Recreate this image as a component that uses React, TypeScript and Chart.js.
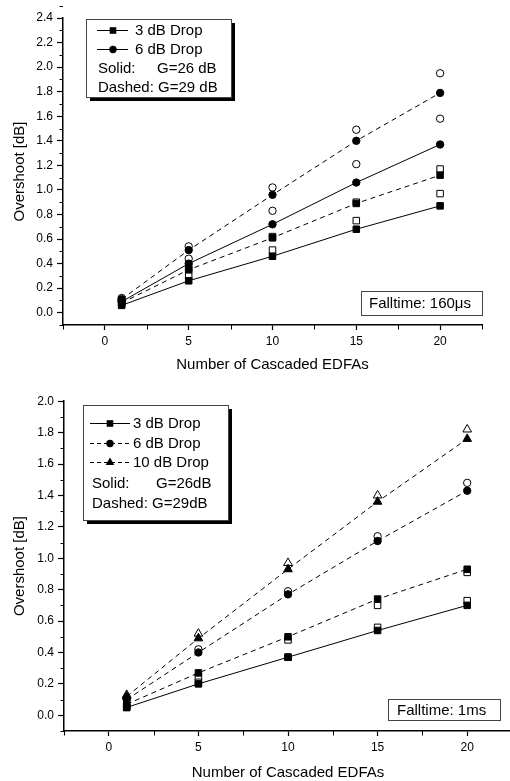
import React, { useEffect, useRef } from 'react';
import { Chart, registerables } from 'chart.js';

Chart.register(...registerables);

const FONT = "'Liberation Sans', Arial, Helvetica, sans-serif";

// ---------- data ----------
const cascadedEdfas = [1, 5, 10, 15, 20];
const xTickLabels = ['0', '5', '10', '15', '20'];
const yTickLabelsTop = ['0.0', '0.2', '0.4', '0.6', '0.8', '1.0', '1.2', '1.4', '1.6', '1.8', '2.0', '2.2', '2.4'];
const yTickLabelsBottom = ['0.0', '0.2', '0.4', '0.6', '0.8', '1.0', '1.2', '1.4', '1.6', '1.8', '2.0'];

// Top panel – Falltime 160 µs
const top3dBSolid = [0.06, 0.26, 0.46, 0.68, 0.87];
const top3dBSolidOpen = [0.07, 0.30, 0.51, 0.75, 0.97];
const top3dBDashed = [0.08, 0.35, 0.61, 0.89, 1.12];
const top3dBDashedOpen = [0.09, 0.36, 0.62, 0.90, 1.17];
const top6dBSolid = [0.09, 0.40, 0.72, 1.06, 1.37];
const top6dBSolidOpen = [0.10, 0.44, 0.83, 1.21, 1.58];
const top6dBDashed = [0.11, 0.51, 0.96, 1.40, 1.79];
const top6dBDashedOpen = [0.12, 0.54, 1.02, 1.49, 1.95];

// Bottom panel – Falltime 1 ms
const bot3dBSolid = [0.05, 0.20, 0.37, 0.54, 0.70];
const bot3dBSolidOpen = [0.05, 0.21, 0.37, 0.56, 0.73];
const bot3dBDashed = [0.07, 0.27, 0.50, 0.74, 0.93];
const bot3dBDashedOpen = [0.06, 0.245, 0.48, 0.70, 0.91];
const bot6dBDashed = [0.10, 0.40, 0.77, 1.11, 1.43];
const bot6dBDashedOpen = [0.11, 0.42, 0.79, 1.14, 1.48];
const bot10dBDashed = [0.12, 0.49, 0.93, 1.36, 1.76];
const bot10dBDashedOpen = [0.13, 0.52, 0.97, 1.40, 1.82];

// ---------- helpers ----------
type Marker = 'rect' | 'circle' | 'triangle';

function radiusFor(m: Marker) {
  return m === 'rect' ? 4.6 : m === 'triangle' ? 5 : 3.7;
}

function series(values: number[], marker: Marker, filled: boolean, line: 'solid' | 'dashed' | null) {
  const r = radiusFor(marker);
  return {
    data: cascadedEdfas.map((x, i) => ({ x, y: values[i] })),
    showLine: line !== null,
    borderColor: '#000',
    borderWidth: 1,
    borderDash: line === 'dashed' ? [5, 4] : [],
    pointStyle: marker,
    pointRadius: r,
    pointHoverRadius: r,
    pointBackgroundColor: filled ? '#000' : '#fff',
    pointBorderColor: '#000',
    pointBorderWidth: 1,
    order: filled ? 0 : 1,
    clip: false as any,
  };
}

function minorOf(majors: number[]) {
  const step = majors[1] - majors[0];
  const out = [majors[0] - step / 2];
  for (let i = 0; i < majors.length; i++) out.push(majors[i] + step / 2);
  return out;
}

function drawMarker(ctx: CanvasRenderingContext2D, m: Marker, x: number, y: number) {
  ctx.fillStyle = '#000';
  ctx.beginPath();
  if (m === 'rect') {
    ctx.rect(x - 3.3, y - 3.3, 6.6, 6.6);
  } else if (m === 'circle') {
    ctx.arc(x, y, 3.7, 0, Math.PI * 2);
  } else {
    const r = 5;
    ctx.moveTo(x, y - r);
    ctx.lineTo(x + r * 0.866, y + r / 2);
    ctx.lineTo(x - r * 0.866, y + r / 2);
    ctx.closePath();
  }
  ctx.fill();
}

type Row =
  | { kind: 'sample'; y: number; x1: number; x2: number; mx: number; marker: Marker; dashed: boolean; tx: number; text: string }
  | { kind: 'text'; y: number; parts: { x: number; text: string }[] };

interface Deco {
  box: { x: number; y: number; w: number; h: number };
  rows: Row[];
  note: { x: number; y: number; w: number; h: number; tx: number; text: string };
  xMinor: number[];
  yMinor: number[];
}

function decoPlugin(d: Deco) {
  return {
    id: 'deco',
    afterDraw(chart: any) {
      const { ctx, chartArea, scales } = chart;
      const xs = scales.x;
      const ys = scales.y;
      ctx.save();
      // minor ticks
      ctx.strokeStyle = '#000';
      ctx.lineWidth = 1;
      ctx.setLineDash([]);
      ctx.beginPath();
      d.yMinor.forEach((v) => {
        const py = Math.round(ys.getPixelForValue(v)) + 0.5;
        ctx.moveTo(chartArea.left - 3.5, py);
        ctx.lineTo(chartArea.left, py);
      });
      d.xMinor.forEach((v) => {
        const px = Math.round(xs.getPixelForValue(v)) + 0.5;
        ctx.moveTo(px, chartArea.bottom);
        ctx.lineTo(px, chartArea.bottom + 4.5);
      });
      ctx.stroke();

      // legend box with shadow
      const b = d.box;
      ctx.fillStyle = '#000';
      ctx.fillRect(b.x + 4, b.y + 4, b.w, b.h);
      ctx.fillStyle = '#fff';
      ctx.fillRect(b.x, b.y, b.w, b.h);
      ctx.strokeStyle = '#444';
      ctx.lineWidth = 1;
      ctx.strokeRect(b.x + 0.5, b.y + 0.5, b.w, b.h);

      ctx.font = `15px ${FONT}`;
      ctx.textBaseline = 'middle';
      ctx.textAlign = 'left';
      d.rows.forEach((r) => {
        if (r.kind === 'sample') {
          ctx.strokeStyle = '#000';
          ctx.lineWidth = 1;
          ctx.setLineDash(r.dashed ? [4, 3] : []);
          ctx.beginPath();
          ctx.moveTo(r.x1, r.y + 0.5);
          ctx.lineTo(r.x2, r.y + 0.5);
          ctx.stroke();
          ctx.setLineDash([]);
          drawMarker(ctx, r.marker, r.mx, r.y + 0.5);
          ctx.fillStyle = '#000';
          ctx.fillText(r.text, r.tx, r.y + 1);
        } else {
          ctx.fillStyle = '#000';
          r.parts.forEach((p) => ctx.fillText(p.text, p.x, r.y + 1));
        }
      });

      // falltime note
      const n = d.note;
      ctx.fillStyle = '#fff';
      ctx.fillRect(n.x, n.y, n.w, n.h);
      ctx.strokeStyle = '#444';
      ctx.lineWidth = 1;
      ctx.strokeRect(n.x + 0.5, n.y + 0.5, n.w, n.h);
      ctx.fillStyle = '#000';
      ctx.fillText(n.text, n.tx, n.y + n.h / 2 + 1);
      ctx.restore();
    },
  };
}

function makeConfig(opts: {
  datasets: any[];
  yLabels: string[];
  yMin: number;
  yMax: number;
  padding: { left: number; right: number; top: number; bottom: number };
  yAxisWidth: number;
  xAxisHeight: number;
  xTitlePad: number;
  deco: Deco;
}) {
  const yVals = opts.yLabels.map((l) => parseFloat(l));
  return {
    type: 'scatter' as const,
    data: { datasets: opts.datasets },
    options: {
      animation: false as const,
      responsive: false,
      devicePixelRatio: 1,
      layout: { padding: opts.padding },
      plugins: { legend: { display: false }, tooltip: { enabled: false } },
      events: [],
      scales: {
        x: {
          type: 'linear' as const,
          position: 'bottom' as const,
          min: -2.5,
          max: 22.5,
          bounds: 'data' as const,
          afterBuildTicks: (s: any) => {
            s.ticks = xTickLabels.map((l) => ({ value: parseFloat(l) }));
          },
          afterFit: (s: any) => {
            s.height = opts.xAxisHeight;
          },
          ticks: {
            callback: (v: any) => String(v),
            font: { family: FONT, size: 12 },
            color: '#000',
            padding: 4,
            maxRotation: 0,
            autoSkip: false,
          },
          grid: { drawOnChartArea: false, drawTicks: true, tickLength: 5, tickColor: '#000', tickWidth: 1.2 },
          border: { display: true, color: '#000', width: 1.5 },
          title: {
            display: true,
            text: 'Number of Cascaded EDFAs',
            font: { family: FONT, size: 15 },
            color: '#000',
            padding: { top: 0, bottom: opts.xTitlePad },
          },
        },
        y: {
          type: 'linear' as const,
          position: 'left' as const,
          min: opts.yMin,
          max: opts.yMax,
          bounds: 'data' as const,
          afterBuildTicks: (s: any) => {
            s.ticks = yVals.map((v) => ({ value: v }));
          },
          afterFit: (s: any) => {
            s.width = opts.yAxisWidth;
          },
          ticks: {
            callback: (v: any) => Number(v).toFixed(1),
            font: { family: FONT, size: 12 },
            color: '#000',
            padding: 4,
            autoSkip: false,
          },
          grid: { drawOnChartArea: false, drawTicks: true, tickLength: 6, tickColor: '#000', tickWidth: 1.2 },
          border: { display: true, color: '#000', width: 1.5 },
          title: {
            display: true,
            text: 'Overshoot [dB]',
            font: { family: FONT, size: 15 },
            color: '#000',
            padding: { top: 11, bottom: 0 },
          },
        },
      },
    },
    plugins: [decoPlugin(opts.deco)],
  };
}

const xMajor = xTickLabels.map((l) => parseFloat(l));

const topDeco: Deco = {
  box: { x: 86, y: 19, w: 145, h: 78 },
  rows: [
    { kind: 'sample', y: 30, x1: 97, x2: 128, mx: 113, marker: 'rect', dashed: false, tx: 135, text: '3 dB Drop' },
    { kind: 'sample', y: 49, x1: 97, x2: 128, mx: 113, marker: 'circle', dashed: false, tx: 135, text: '6 dB Drop' },
    { kind: 'text', y: 68, parts: [{ x: 98, text: 'Solid:' }, { x: 157, text: 'G=26 dB' }] },
    { kind: 'text', y: 87, parts: [{ x: 98, text: 'Dashed: G=29 dB' }] },
  ],
  note: { x: 361, y: 291, w: 121, h: 24, tx: 369, text: 'Falltime: 160\u03bcs' },
  xMinor: minorOf(xMajor),
  yMinor: minorOf(yTickLabelsTop.map((l) => parseFloat(l))),
};

const bottomDeco: Deco = {
  box: { x: 83, y: 15, w: 145, h: 115 },
  rows: [
    { kind: 'sample', y: 33, x1: 90, x2: 130, mx: 110, marker: 'rect', dashed: false, tx: 133, text: '3 dB Drop' },
    { kind: 'sample', y: 53, x1: 90, x2: 130, mx: 110, marker: 'circle', dashed: true, tx: 133, text: '6 dB Drop' },
    { kind: 'sample', y: 72, x1: 90, x2: 130, mx: 110, marker: 'triangle', dashed: true, tx: 133, text: '10 dB Drop' },
    { kind: 'text', y: 93, parts: [{ x: 92, text: 'Solid:' }, { x: 156, text: 'G=26dB' }] },
    { kind: 'text', y: 113, parts: [{ x: 92, text: 'Dashed: G=29dB' }] },
  ],
  note: { x: 388, y: 309, w: 112, h: 21, tx: 397, text: 'Falltime: 1ms' },
  xMinor: minorOf(xMajor),
  yMinor: minorOf(yTickLabelsBottom.map((l) => parseFloat(l))),
};

const topDatasets = [
  series(top3dBSolid, 'rect', true, 'solid'),
  series(top3dBDashed, 'rect', true, 'dashed'),
  series(top6dBSolid, 'circle', true, 'solid'),
  series(top6dBDashed, 'circle', true, 'dashed'),
  series(top3dBSolidOpen, 'rect', false, null),
  series(top3dBDashedOpen, 'rect', false, null),
  series(top6dBSolidOpen, 'circle', false, null),
  series(top6dBDashedOpen, 'circle', false, null),
];

const bottomDatasets = [
  series(bot3dBSolid, 'rect', true, 'solid'),
  series(bot3dBDashed, 'rect', true, 'dashed'),
  series(bot6dBDashed, 'circle', true, 'dashed'),
  series(bot10dBDashed, 'triangle', true, 'dashed'),
  series(bot3dBSolidOpen, 'rect', false, null),
  series(bot3dBDashedOpen, 'rect', false, null),
  series(bot6dBDashedOpen, 'circle', false, null),
  series(bot10dBDashedOpen, 'triangle', false, null),
];

export default function App() {
  const topRef = useRef<HTMLCanvasElement | null>(null);
  const botRef = useRef<HTMLCanvasElement | null>(null);

  useEffect(() => {
    const charts: Chart[] = [];
    if (topRef.current) {
      charts.push(
        new Chart(
          topRef.current,
          makeConfig({
            datasets: topDatasets,
            yLabels: yTickLabelsTop,
            yMin: -0.1,
            yMax: 2.4,
            padding: { left: 0, right: 28, top: 18, bottom: 0 },
            yAxisWidth: 63,
            xAxisHeight: 65,
            xTitlePad: 16,
            deco: topDeco,
          }) as any
        )
      );
    }
    if (botRef.current) {
      charts.push(
        new Chart(
          botRef.current,
          makeConfig({
            datasets: bottomDatasets,
            yLabels: yTickLabelsBottom,
            yMin: -0.1,
            yMax: 2.0,
            padding: { left: 0, right: 18, top: 11, bottom: 0 },
            yAxisWidth: 64,
            xAxisHeight: 59,
            xTitlePad: 8,
            deco: bottomDeco,
          }) as any
        )
      );
    }
    return () => charts.forEach((c) => c.destroy());
  }, []);

  return (
    <div
      style={{
        position: 'fixed',
        left: 0,
        top: 0,
        width: 510,
        height: 781,
        overflow: 'hidden',
        background: '#fff',
      }}
    >
      <canvas ref={topRef} width={510} height={390} style={{ position: 'absolute', left: 0, top: 0, width: 510, height: 390 }} />
      <canvas ref={botRef} width={530} height={400} style={{ position: 'absolute', left: 0, top: 390, width: 530, height: 400 }} />
    </div>
  );
}
